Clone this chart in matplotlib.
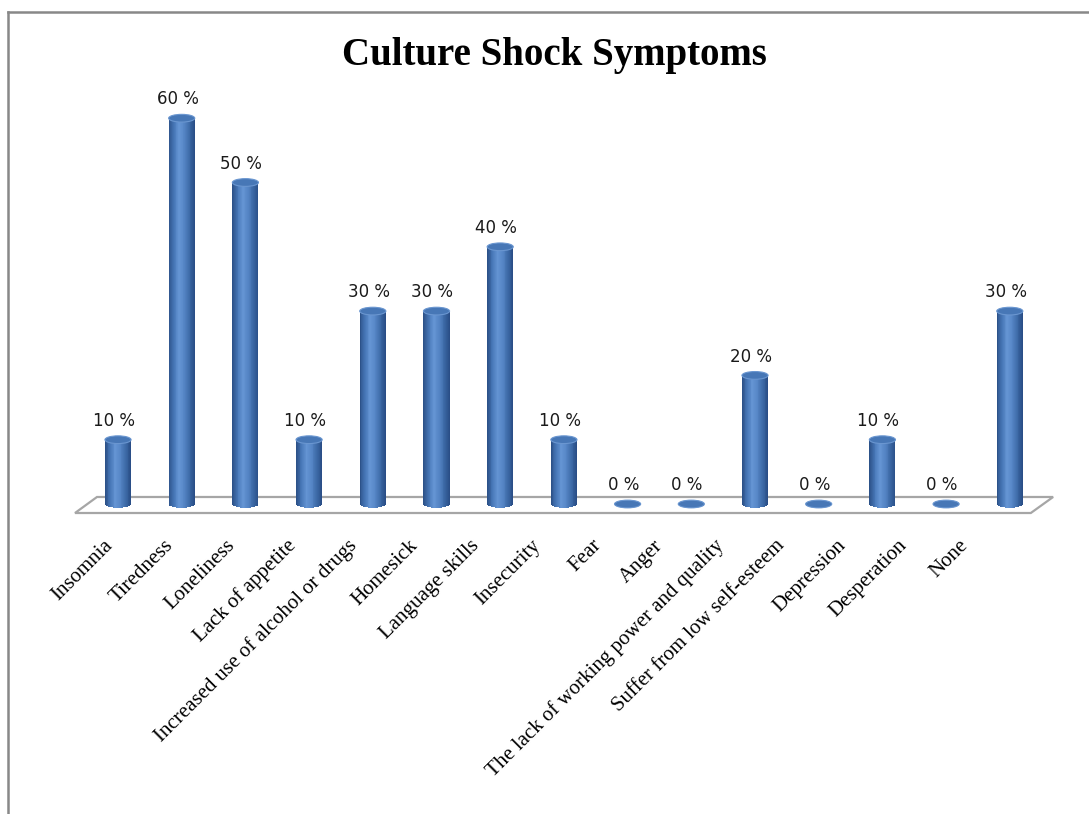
import numpy as np
import matplotlib.pyplot as plt
from matplotlib.patches import Ellipse, Polygon
from matplotlib.colors import LinearSegmentedColormap
from matplotlib.lines import Line2D

categories = ["Insomnia", "Tiredness", "Loneliness", "Lack of appetite",
              "Increased use of alcohol or drugs", "Homesick", "Language skills",
              "Insecurity", "Fear", "Anger", "The lack of working power and quality",
              "Suffer from low self-esteem", "Depression", "Desperation", "None"]
values = [10, 60, 50, 10, 30, 30, 40, 10, 0, 0, 20, 0, 10, 0, 30]
value_labels = [f"{v} %" for v in values]

W, H = 1089, 814
fig = plt.figure(figsize=(W / 100, H / 100), dpi=100)

# axes placed so that bar i sits at pixel 118 + 63.7*i and 0 % at pixel row 504
x0, x1 = -1.0, 15.0
y0, y1 = -8.0, 68.0
def px(x): return 118 + 63.7 * x
def py(y): return 504 - 6.43 * y
ax = fig.add_axes([px(x0) / W, 1 - py(y0) / H, (px(x1) - px(x0)) / W, (py(y0) - py(y1)) / H])
ax.set_xlim(x0, x1)
ax.set_ylim(y0, y1)
ax.axis("off")

n = len(values)

# floor of the 3d plot
floor = Polygon([(-0.675, -1.4), (-0.33, 1.09), (n - 1 + 0.68, 1.09), (n - 1 + 0.33, -1.4)],
                closed=True, facecolor="white", edgecolor="#a6a6a6", lw=1.6, zorder=1)
ax.add_patch(floor)

# cylinder shading
cyl = LinearSegmentedColormap.from_list("cyl", ["#2a4f85", "#4676b6", "#6595d4", "#5585c5",
                                                "#3c69a6", "#284c84"])
a, b = 0.205, 0.6
nstrip = 30
edges = np.linspace(-a, a, nstrip + 1)
mids = (edges[:-1] + edges[1:]) / 2
bottoms = -b * np.sqrt(1 - (mids / a) ** 2)
for i, v in enumerate(values):
    ax.bar(i + mids, v - bottoms, width=(edges[1] - edges[0]) * 1.05, bottom=bottoms,
           color=cyl((mids + a) / (2 * a)), linewidth=0, zorder=2)
    ax.add_patch(Ellipse((i, v), 2 * a, 2 * b, facecolor="#4777b6", edgecolor="#6a96d0",
                         lw=0.8, zorder=3))
    ax.annotate(value_labels[i], (i, v), xytext=(-3, 10), textcoords="offset points",
                ha="center", va="baseline", fontsize=12, color="#1a1a1a")

# category labels along the front edge
for i, c in enumerate(categories):
    xl = i + (-15 - 2.6 * i) / 63.7
    ax.text(xl, -5.0, c, rotation=45, rotation_mode="anchor", ha="right", va="top",
            fontsize=15, family="Liberation Serif", color="black")

fig.text(554 / W, 1 - 55 / H, "Culture Shock Symptoms", ha="center", va="center",
         fontsize=28, fontweight="bold", family="Liberation Serif")

# chart frame (only top and left edges visible)
fig.add_artist(Line2D([8 / W, 8 / W], [1 - 12 / H, 0], color="#888888", lw=1.8))
fig.add_artist(Line2D([8 / W, 1], [1 - 12 / H, 1 - 12 / H], color="#888888", lw=1.8))

fig.savefig("out.png", dpi=100)
